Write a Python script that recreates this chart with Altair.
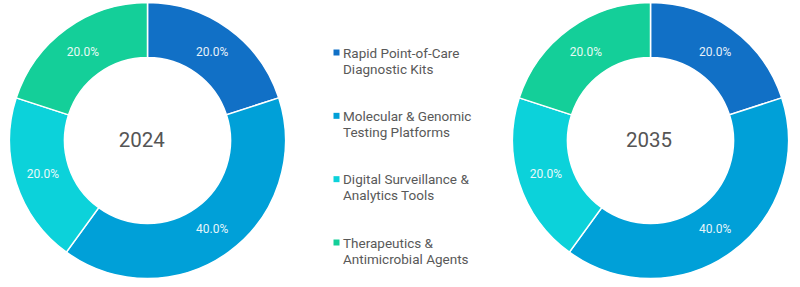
import altair as alt
import pandas as pd

categories = ["Rapid Point-of-Care Diagnostic Kits",
              "Molecular & Genomic Testing Platforms",
              "Digital Surveillance & Analytics Tools",
              "Therapeutics & Antimicrobial Agents"]
legend_lines = ["Rapid Point-of-Care\nDiagnostic Kits",
                "Molecular & Genomic\nTesting Platforms",
                "Digital Surveillance &\nAnalytics Tools",
                "Therapeutics &\nAntimicrobial Agents"]
colors = ["#1170C6", "#00A0D8", "#0CD2DA", "#14CF99"]
share_2024 = [20.0, 40.0, 20.0, 20.0]
share_2035 = [20.0, 40.0, 20.0, 20.0]
years = ["2024", "2035"]

rows = []
for yr, vals in zip(years, [share_2024, share_2035]):
    for i, (c, v) in enumerate(zip(categories, vals)):
        rows.append({"year": yr, "category": c, "value": v, "order": i,
                     "label": f"{v:.1f}%"})
df = pd.DataFrame(rows)
leg = pd.DataFrame({"category": categories, "text": legend_lines, "idx": list(range(4))})

color_scale = alt.Scale(domain=categories, range=colors)

def donut(year, cx, cy, tx):
    base = alt.Chart(df).transform_filter(alt.datum.year == year)
    arcs = base.mark_arc(stroke="white", strokeWidth=1.5).encode(
        theta=alt.Theta("value:Q", stack=True),
        order=alt.Order("order:Q"),
        color=alt.Color("category:N", scale=color_scale, legend=None),
        x=alt.value(cx), y=alt.value(cy),
        radius=alt.value(138), radius2=alt.value(83),
    )
    labels = base.mark_text(font="Roboto", fontSize=12, color="white", opacity=0.9).encode(
        theta=alt.Theta("value:Q", stack=True),
        order=alt.Order("order:Q"),
        text="label:N",
        x=alt.value(cx), y=alt.value(cy),
        radius=alt.value(110),
    )
    center = alt.Chart(pd.DataFrame({"t": [year]})).mark_text(
        font="Roboto", fontSize=20.5, fontWeight="normal", color="#555555"
    ).encode(text="t:N", x=alt.value(tx), y=alt.value(cy))
    return [arcs, labels, center]

legend_y = alt.Y("idx:Q", scale=alt.Scale(domain=[0, 3], range=[52.5, 242.5]), axis=None)
leg_sq = alt.Chart(leg).mark_square(size=36, opacity=1).encode(
    x=alt.value(336.5), y=legend_y,
    color=alt.Color("category:N", scale=color_scale, legend=None),
)
leg_txt = alt.Chart(leg).mark_text(
    font="Roboto", fontSize=13.5, color="#595959", align="left", baseline="alphabetic",
    lineBreak="\n", lineHeight=16, dy=5,
).encode(x=alt.value(343), y=legend_y, text="text:N")

layers = donut("2024", 147.5, 140.5, 141.7) + donut("2035", 650.5, 140.5, 649) + [leg_sq, leg_txt]
chart = alt.layer(*layers).resolve_scale(theta="independent").properties(
    width=800, height=287,
    autosize=alt.AutoSizeParams(type="none"),
    padding=0,
).configure_view(stroke=None)

chart.save("out.html", embed_options={"renderer": "svg", "actions": False})
